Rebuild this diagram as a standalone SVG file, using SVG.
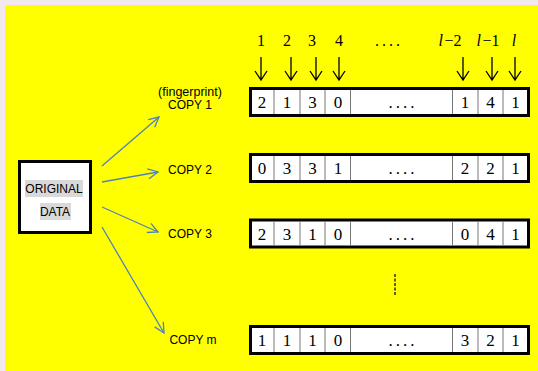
<svg xmlns="http://www.w3.org/2000/svg" width="538" height="371" viewBox="0 0 538 371">
  <defs>
    <style>
      .num { font-family: "Liberation Serif", "Times New Roman", serif; font-size: 17px; fill: #000; text-anchor: middle; }
      .idx { font-family: "Liberation Serif", "Times New Roman", serif; font-size: 16px; fill: #000; text-anchor: middle; }
      .it { font-style: italic; }
      .dots { letter-spacing: 3px; }
      .lbl { font-family: "Liberation Sans", Arial, sans-serif; font-size: 12px; fill: #000; text-anchor: middle; }
      .frame { fill: #fff; stroke: #000; stroke-width: 3; }
      .cell { stroke: #777; stroke-width: 1; }
      .down { stroke: #000; stroke-width: 1.3; fill: none; }
      .link { stroke: #4f81bd; stroke-width: 1.3; fill: none; marker-end: url(#open); }
    </style>
    <marker id="open" viewBox="0 0 12 12" refX="11" refY="6" markerWidth="12" markerHeight="12" markerUnits="userSpaceOnUse" orient="auto">
      <path d="M1,1 L11,6 L1,11" fill="none" stroke="#4f81bd" stroke-width="1.3"/>
    </marker>
    <g id="cells">
      <rect class="frame" x="250.5" y="-13.5" width="278" height="27"/>
      <line class="cell" x1="274" y1="-12" x2="274" y2="12"/>
      <line class="cell" x1="300" y1="-12" x2="300" y2="12"/>
      <line class="cell" x1="325" y1="-12" x2="325" y2="12"/>
      <line class="cell" x1="350.5" y1="-12" x2="350.5" y2="12"/>
      <line class="cell" x1="452.5" y1="-12" x2="452.5" y2="12"/>
      <line class="cell" x1="478" y1="-12" x2="478" y2="12"/>
      <line class="cell" x1="503" y1="-12" x2="503" y2="12"/>
    </g>
  </defs>

  <rect x="0" y="0" width="538" height="371" fill="#f2e8ee"/>
  <rect x="5" y="5" width="533" height="366" fill="#ffff00"/>

  <!-- position indices -->
  <g id="indices">
    <text class="idx" x="261" y="46">1</text>
    <text class="idx" x="287" y="46">2</text>
    <text class="idx" x="312" y="46">3</text>
    <text class="idx" x="339" y="46">4</text>
    <text class="idx dots" x="389" y="46">....</text>
    <text class="idx" x="450" y="46"><tspan class="it">l</tspan><tspan dx="1.5">−2</tspan></text>
    <text class="idx" x="488" y="46"><tspan class="it">l</tspan><tspan dx="1.5">−1</tspan></text>
    <text class="idx it" x="514" y="46">l</text>
    <g class="down">
      <path d="M261,57 V80 M255,71 L261,80 L267,71"/>
      <path d="M291,57 V80 M285,71 L291,80 L297,71"/>
      <path d="M316,57 V80 M310,71 L316,80 L322,71"/>
      <path d="M339,57 V80 M333,71 L339,80 L345,71"/>
      <path d="M463,57 V80 M457,71 L463,80 L469,71"/>
      <path d="M492,57 V80 M486,71 L492,80 L498,71"/>
      <path d="M515,57 V80 M509,71 L515,80 L521,71"/>
    </g>
  </g>

  <!-- source node -->
  <g id="original">
    <rect class="frame" x="19.5" y="161.5" width="71" height="71"/>
    <rect x="25" y="180" width="58" height="17" fill="#d9d9d9"/>
    <rect x="40" y="203" width="31" height="17" fill="#d9d9d9"/>
    <text class="lbl" x="54" y="193">ORIGINAL</text>
    <text class="lbl" x="55" y="216">DATA</text>
  </g>

  <!-- connectors -->
  <g id="connectors">
    <line class="link" x1="102" y1="166" x2="159" y2="117"/>
    <line class="link" x1="102" y1="182" x2="158" y2="172"/>
    <line class="link" x1="102" y1="207" x2="158" y2="232"/>
    <line class="link" x1="102" y1="227" x2="164" y2="333"/>
    <line x1="395" y1="274" x2="395" y2="296" stroke="#3a3a10" stroke-width="1.6" stroke-dasharray="3,1.5"/>
  </g>

  <g id="copy1">
    <text class="lbl" x="190" y="96" style="font-size:12.5px">(fingerprint)</text>
    <text class="lbl" x="190" y="109">COPY 1</text>
    <use href="#cells" y="102"/>
    <text class="num" x="262" y="108">2</text>
    <text class="num" x="287" y="108">1</text>
    <text class="num" x="312.5" y="108">3</text>
    <text class="num" x="338" y="108">0</text>
    <text class="num dots" x="403" y="108">....</text>
    <text class="num" x="465" y="108">1</text>
    <text class="num" x="490.5" y="108">4</text>
    <text class="num" x="515.5" y="108">1</text>
  </g>

  <g id="copy2">
    <text class="lbl" x="190" y="174">COPY 2</text>
    <use href="#cells" y="168"/>
    <text class="num" x="262" y="174">0</text>
    <text class="num" x="287" y="174">3</text>
    <text class="num" x="312.5" y="174">3</text>
    <text class="num" x="338" y="174">1</text>
    <text class="num dots" x="403" y="174">....</text>
    <text class="num" x="465" y="174">2</text>
    <text class="num" x="490.5" y="174">2</text>
    <text class="num" x="515.5" y="174">1</text>
  </g>

  <g id="copy3">
    <text class="lbl" x="190" y="238">COPY 3</text>
    <use href="#cells" y="233.5"/>
    <text class="num" x="262" y="239.5">2</text>
    <text class="num" x="287" y="239.5">3</text>
    <text class="num" x="312.5" y="239.5">1</text>
    <text class="num" x="338" y="239.5">0</text>
    <text class="num dots" x="403" y="239.5">....</text>
    <text class="num" x="465" y="239.5">0</text>
    <text class="num" x="490.5" y="239.5">4</text>
    <text class="num" x="515.5" y="239.5">1</text>
  </g>

  <g id="copym">
    <text class="lbl" x="193" y="344">COPY m</text>
    <use href="#cells" y="340"/>
    <text class="num" x="262" y="346">1</text>
    <text class="num" x="287" y="346">1</text>
    <text class="num" x="312.5" y="346">1</text>
    <text class="num" x="338" y="346">0</text>
    <text class="num dots" x="403" y="346">....</text>
    <text class="num" x="465" y="346">3</text>
    <text class="num" x="490.5" y="346">2</text>
    <text class="num" x="515.5" y="346">1</text>
  </g>
</svg>
